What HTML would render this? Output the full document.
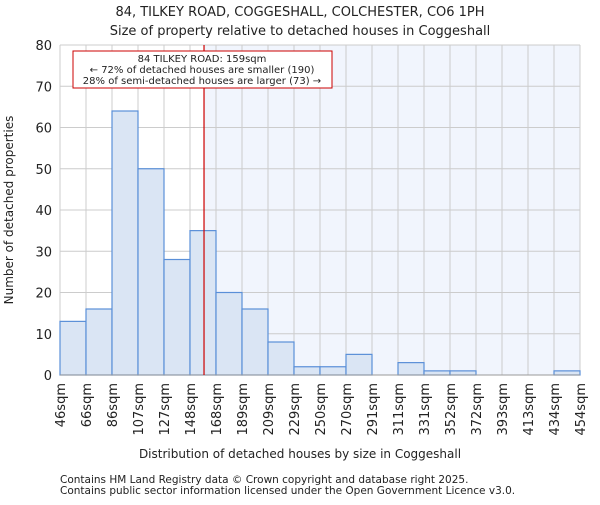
<!DOCTYPE html>
<html><head><meta charset="utf-8"><style>body{margin:0;background:#fff}svg text{font-family:"DejaVu Sans","Liberation Sans",sans-serif;fill:#222}</style></head>
<body>
<svg id="c" width="600" height="500" xmlns="http://www.w3.org/2000/svg">
<text x="300" y="16" font-size="13" text-anchor="middle">84, TILKEY ROAD, COGGESHALL, COLCHESTER, CO6 1PH</text>
<text x="300" y="35" font-size="13" text-anchor="middle">Size of property relative to detached houses in Coggeshall</text>
<g id="plot"></g>
<text x="300" y="458" font-size="12" text-anchor="middle">Distribution of detached houses by size in Coggeshall</text>
<text transform="translate(13,210) rotate(-90)" font-size="12" text-anchor="middle">Number of detached properties</text>
<text x="60" y="483" font-size="10.5">Contains HM Land Registry data © Crown copyright and database right 2025.</text>
<text x="60" y="494" font-size="10.5">Contains public sector information licensed under the Open Government Licence v3.0.</text>
</svg>
<script>
const binLabels=["46sqm","66sqm","86sqm","107sqm","127sqm","148sqm","168sqm","189sqm","209sqm","229sqm","250sqm","270sqm","291sqm","311sqm","331sqm","352sqm","372sqm","393sqm","413sqm","434sqm","454sqm"];
const counts=[13,16,64,50,28,35,20,16,8,2,2,5,0,3,1,1,0,0,0,1];
const yTicks=[0,10,20,30,40,50,60,70,80];
const propertySize=159;
const xMin=46,xMax=454;
const L=60,R=580,T=45,B=375;
const NS="http://www.w3.org/2000/svg";
const g=document.getElementById('plot');
const bw=(R-L)/counts.length;
const xs=v=>L+(v-xMin)/(xMax-xMin)*(R-L);
const xi=i=>L+i*bw;
const ys=v=>B-v/80*(B-T);
function el(t,a,p){const e=document.createElementNS(NS,t);for(const k in a)e.setAttribute(k,a[k]);(p||g).appendChild(e);return e;}
const px=xs(propertySize);
let r=el('rect',{x:px,y:T,width:R-px,height:B-T,fill:'#f1f5fd'});


binLabels.forEach((l,i)=>{let ln=el('line',{x1:xi(i),x2:xi(i),y1:T,y2:B,stroke:'#cccccc'});

});
yTicks.forEach(v=>{let ln=el('line',{x1:L,x2:R,y1:ys(v),y2:ys(v),stroke:'#cccccc'});


let t=el('text',{x:L-8,y:ys(v)+5,'font-size':13,'text-anchor':'end'});t.textContent=v;

});
counts.forEach((c,i)=>{if(c<=0)return;let b=el('rect',{x:xi(i),y:ys(c),width:bw,height:B-ys(c),fill:'#dae5f4',stroke:'#5a8fd8','stroke-width':1.2});

});
binLabels.forEach((l,i)=>{let t=el('text',{transform:`translate(${xi(i)+5},383) rotate(-90)`,'font-size':13,'text-anchor':'end'});t.textContent=l;

});
let ax=el('line',{x1:L,x2:R,y1:B,y2:B,stroke:'#999'});


let ml=el('line',{x1:px,x2:px,y1:T,y2:B,stroke:'#cc0000','stroke-width':1.2});


let box=el('rect',{x:73,y:51,width:259,height:37,fill:'#fff',stroke:'#cc0000'});


["84 TILKEY ROAD: 159sqm","← 72% of detached houses are smaller (190)","28% of semi-detached houses are larger (73) →"].forEach((s,i)=>{let t=el('text',{x:202,y:62+i*11,'font-size':10,'text-anchor':'middle'});t.textContent=s;

});
</script>
</body></html>
